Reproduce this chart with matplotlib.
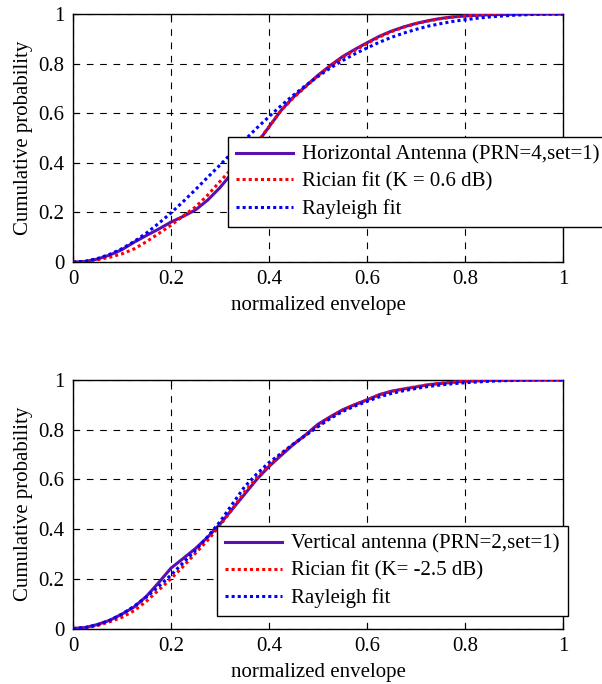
import matplotlib
matplotlib.use("Agg")
import matplotlib.pyplot as plt
import numpy as np

# ---------------- data ----------------
x_grid = [0.0, 0.025, 0.05, 0.075, 0.1, 0.125, 0.15, 0.175, 0.2, 0.225,
          0.25, 0.275, 0.3, 0.325, 0.35, 0.375, 0.4, 0.425, 0.45, 0.475,
          0.5, 0.525, 0.55, 0.575, 0.6, 0.625, 0.65, 0.675, 0.7, 0.725,
          0.75, 0.775, 0.8, 0.825, 0.85, 0.875, 0.9, 0.925, 0.95, 0.975, 1.0]

# top panel: horizontal antenna
top_measured = [0.0, 0.002, 0.012, 0.028, 0.05, 0.08, 0.107, 0.133, 0.161, 0.184,
                0.21, 0.25, 0.30, 0.36, 0.42, 0.477, 0.545, 0.612, 0.665, 0.709,
                0.753, 0.792, 0.828, 0.857, 0.884, 0.91, 0.931, 0.948, 0.962, 0.973,
                0.982, 0.988, 0.992, 0.995, 0.997, 0.998, 0.999, 1.0, 1.0, 1.0, 1.0]
top_rician = [0.0, 0.002, 0.009, 0.019, 0.033, 0.053, 0.082, 0.115, 0.148, 0.186,
              0.222, 0.27, 0.325, 0.378, 0.43, 0.48, 0.545, 0.612, 0.663, 0.707,
              0.752, 0.79, 0.824, 0.853, 0.881, 0.907, 0.929, 0.947, 0.961, 0.972,
              0.981, 0.988, 0.992, 0.995, 0.997, 0.998, 0.999, 1.0, 1.0, 1.0, 1.0]
top_rayleigh = [0.0, 0.003, 0.014, 0.031, 0.054, 0.083, 0.117, 0.156, 0.198, 0.244,
                0.292, 0.342, 0.391, 0.442, 0.491, 0.54, 0.586, 0.631, 0.673, 0.712,
                0.748, 0.782, 0.812, 0.839, 0.863, 0.886, 0.906, 0.923, 0.938, 0.951,
                0.961, 0.97, 0.977, 0.983, 0.988, 0.992, 0.995, 0.997, 0.999, 1.0, 1.0]

# bottom panel: vertical antenna
bot_measured = [0.0, 0.004, 0.016, 0.033, 0.058, 0.087, 0.13, 0.185, 0.243, 0.282,
                0.322, 0.368, 0.42, 0.48, 0.54, 0.60, 0.652, 0.697, 0.741, 0.78,
                0.822, 0.852, 0.88, 0.901, 0.92, 0.941, 0.955, 0.964, 0.972, 0.981,
                0.986, 0.991, 0.995, 0.997, 0.998, 0.999, 1.0, 1.0, 1.0, 1.0, 1.0]
bot_rician = [0.0, 0.002, 0.012, 0.027, 0.045, 0.072, 0.11, 0.155, 0.20, 0.25,
              0.303, 0.355, 0.415, 0.48, 0.55, 0.607, 0.655, 0.703, 0.742, 0.778,
              0.815, 0.85, 0.878, 0.90, 0.92, 0.94, 0.954, 0.964, 0.973, 0.981,
              0.987, 0.991, 0.995, 0.997, 0.998, 0.999, 1.0, 1.0, 1.0, 1.0, 1.0]
bot_rayleigh = [0.0, 0.004, 0.015, 0.033, 0.058, 0.09, 0.127, 0.17, 0.215, 0.265,
                0.315, 0.37, 0.43, 0.50, 0.57, 0.622, 0.668, 0.705, 0.743, 0.778,
                0.812, 0.845, 0.873, 0.895, 0.914, 0.932, 0.946, 0.957, 0.966, 0.974,
                0.98, 0.985, 0.989, 0.992, 0.995, 0.997, 0.998, 0.999, 1.0, 1.0, 1.0]

top_labels = ["Horizontal Antenna (PRN=4,set=1)", "Rician fit (K = 0.6 dB)", "Rayleigh fit"]
bot_labels = ["Vertical antenna (PRN=2,set=1)", "Rician fit (K= -2.5 dB)", "Rayleigh fit"]

ticks = [0, 0.2, 0.4, 0.6, 0.8, 1]
tick_labels = ["0", "0.2", "0.4", "0.6", "0.8", "1"]
xlabel = "normalized envelope"
ylabel = "Cumulative probability"

# ---------------- style ----------------
plt.rcParams['font.family'] = ['Liberation Serif', 'DejaVu Serif']
FS = 15
plt.rcParams['font.size'] = FS

PURPLE = '#5a10b0'
W, H = 602, 684
fig = plt.figure(figsize=(W / 100, H / 100), dpi=100)

def px_axes(left, top, right, bottom):
    return fig.add_axes([left / W, 1 - bottom / H, (right - left) / W, (bottom - top) / H])

ax_top = px_axes(73, 14, 563, 262)
ax_bot = px_axes(73, 380, 563, 628.5)

def draw(ax, meas, ric, ray, labels, leg_left, leg_top):
    ax.plot(x_grid, meas, color=PURPLE, lw=2.2, label=labels[0], zorder=3)
    l2, = ax.plot(x_grid, ric, color='#ff0000', lw=2.2, label=labels[1], zorder=4)
    l3, = ax.plot(x_grid, ray, color='#0000ff', lw=2.2, label=labels[2], zorder=4)
    for l in (l2, l3):
        l.set_dashes((1, 1))
        l.set_dash_capstyle('butt')
    ax.set_xlim(0, 1)
    ax.set_ylim(0, 1)
    ax.set_xticks(ticks)
    ax.set_xticklabels(tick_labels)
    ax.set_yticks(ticks)
    ax.set_yticklabels(tick_labels)
    ax.tick_params(direction='in', length=4, width=0.8, top=True, right=True,
                   labelsize=FS, pad=6, colors='black')
    ax.grid(True, color='black', linestyle=(0, (6, 6)), linewidth=0.8)
    for s in ax.spines.values():
        s.set_linewidth(1.0)
        s.set_color('black')
    ax.set_xlabel(xlabel, fontsize=FS, labelpad=5)
    ax.set_ylabel(ylabel, fontsize=FS, labelpad=4)
    leg = ax.legend(loc='upper left',
                    bbox_to_anchor=(leg_left / W, 1 - leg_top / H),
                    bbox_transform=fig.transFigure,
                    fontsize=FS, frameon=True, fancybox=False, shadow=False,
                    framealpha=1, edgecolor='black', handlelength=2.7,
                    handletextpad=0.45, borderpad=0.4, labelspacing=0.35,
                    borderaxespad=0)
    leg.get_frame().set_linewidth(1.0)
    leg.set_zorder(10)

draw(ax_top, top_measured, top_rician, top_rayleigh, top_labels, 228, 137)
draw(ax_bot, bot_measured, bot_rician, bot_rayleigh, bot_labels, 217, 526)

fig.savefig("out.png", dpi=100)
